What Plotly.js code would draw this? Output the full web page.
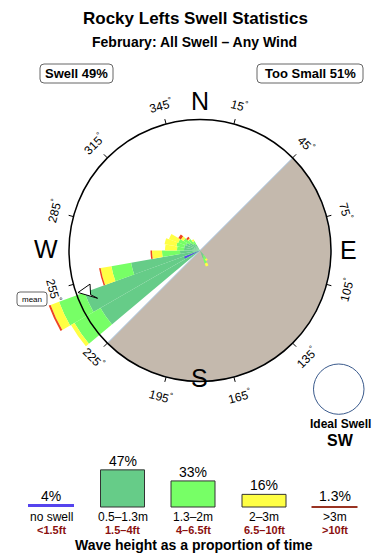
<!DOCTYPE html>
<html><head><meta charset="utf-8">
<script src="https://cdn.plot.ly/plotly-3.0.1.min.js"></script>
<style>html,body{margin:0;padding:0;background:#fff}#chart{width:390px;height:560px}</style>
</head><body><div id="chart"></div>
<script>
// ---------- data ----------
const directions = [145, 155, 235, 245, 255, 265, 275, 285, 295, 305, 315, 325];
const h_05_13 = [0.6, 0.8, 11.5, 12.3, 7.0, 2.0, 1.6, 1.6, 1.5, 1.2, 0.9, 0.7];
const h_13_2  = [0.4, 0.6, 3.0, 2.7, 2.0, 1.8, 0.7, 0.8, 0.8, 0.7, 0.6, 0.4];
const h_2_3   = [0.2, 0.3, 0.4, 0.9, 1.1, 1.0, 1.2, 1.2, 1.0, 0.3, 0.1, 0.2];
const h_3p    = [0, 0, 0, 0.2, 0.15, 0.15, 0, 0, 0, 0.3, 0.2, 0];
const noSwellDir = [245];
const noSwellVal = [1.7];
const meanDir = 246;
const shadowFrom = 45, shadowTo = 225;
const tickAngles = [15, 45, 75, 105, 135, 165, 195, 225, 255, 285, 315, 345];
const cardinals = ['N', 'E', 'S', 'W'];
const legendPct = ['4%', '47%', '33%', '16%', '1.3%'];
const legendPctVal = [4, 47, 33, 16, 1.3];
const legendMetres = ['no swell', '0.5\u20131.3m', '1.3\u20132m', '2\u20133m', '>3m'];
const legendFeet = ['<1.5ft', '1.5\u20134ft', '4\u20136.5ft', '6.5\u201310ft', '>10ft'];
const swellPct = 'Swell 49%';
const tooSmallPct = 'Too Small 51%';
const idealSwell = 'SW';

// ---------- geometry / styles ----------
const W = 390, H = 560;
const CX = 200, CY = 250.5, PXU = 10;
const RING = 13.1, RMAX = 17.5;
const px = x => x / W;
const py = y => 1 - y / H;
const rad = d => d * Math.PI / 180;
const colors = ['#66cc88', '#77ff66', '#ffff44', '#ee4422'];
const FONT = 'Liberation Sans, Arial, Helvetica, sans-serif';

function cum(arrs, k) {
  return directions.map((_, i) => { let s = 0; for (let j = 0; j < k; j++) s += arrs[j][i]; return s; });
}
const layers = [h_05_13, h_13_2, h_2_3, h_3p];

const traces = [];
// land shadow sector
traces.push({
  type: 'barpolar', r: [RING], theta: [(shadowFrom + shadowTo) / 2], width: [shadowTo - shadowFrom], base: [0],
  marker: {color: '#c4b9ad', line: {color: '#a9c6e2', width: 1}}, hoverinfo: 'skip'
});
layers.forEach((arr, k) => {
  traces.push({
    type: 'barpolar', r: arr, theta: directions, width: directions.map(() => 10), base: cum(layers, k),
    marker: {color: colors[k], line: {width: 0}}, hoverinfo: 'skip'
  });
});
traces.push({
  type: 'barpolar', r: noSwellVal, theta: noSwellDir, width: [7], base: [0],
  marker: {color: '#5544ee', line: {width: 0}}, hoverinfo: 'skip'
});
// compass ticks
const tr = [], tt = [];
tickAngles.forEach(a => { tr.push(RING, RING + 0.5, null); tt.push(a, a, null); });
traces.push({type: 'scatterpolar', mode: 'lines', r: tr, theta: tt, line: {color: '#000', width: 1}, hoverinfo: 'skip'});
// mean arrow (arrowhead at mean direction)
traces.push({
  type: 'scatterpolar', mode: 'lines', fill: 'toself', fillcolor: '#fff',
  r: [RING - 0.2, RING - 1.8, RING - 1.3, RING - 1.6, RING - 0.2],
  theta: [meanDir + 5, meanDir - 1, meanDir + 2, meanDir + 7, meanDir + 5],
  line: {color: '#000', width: 1}, hoverinfo: 'skip'
});

const shapes = [];
const annotations = [];
// compass circle
shapes.push({type: 'circle', xref: 'paper', yref: 'paper',
  x0: px(CX - RING * PXU), x1: px(CX + RING * PXU), y0: py(CY + RING * PXU), y1: py(CY - RING * PXU),
  line: {color: '#000', width: 1.5}, layer: 'above'});
// tick labels
tickAngles.forEach(a => {
  const r = 15.1 * PXU;
  let ang = a % 180; if (ang > 90) ang -= 180;
  annotations.push({xref: 'paper', yref: 'paper', x: px(CX + r * Math.sin(rad(a))), y: py(CY - r * Math.cos(rad(a))),
    text: a + '<sup>\u00b0</sup>', showarrow: false, textangle: ang, xanchor: 'center', yanchor: 'middle',
    font: {family: FONT, size: 12, color: '#000'}});
});
// cardinal letters
const cardPos = {N: [200, 101], E: [348, 250], S: [200, 378], W: [46, 249]};
cardinals.forEach(c => annotations.push({xref: 'paper', yref: 'paper', x: px(cardPos[c][0]), y: py(cardPos[c][1]),
  text: c, showarrow: false, xanchor: 'center', yanchor: 'middle', font: {family: FONT, size: 25, color: '#000'}}));

function roundRect(x0, y0, x1, y1, r) {
  const X = px, Y = py;
  return `M${X(x0 + r)},${Y(y0)} L${X(x1 - r)},${Y(y0)} Q${X(x1)},${Y(y0)} ${X(x1)},${Y(y0 + r)} ` +
    `L${X(x1)},${Y(y1 - r)} Q${X(x1)},${Y(y1)} ${X(x1 - r)},${Y(y1)} L${X(x0 + r)},${Y(y1)} ` +
    `Q${X(x0)},${Y(y1)} ${X(x0)},${Y(y1 - r)} L${X(x0)},${Y(y0 + r)} Q${X(x0)},${Y(y0)} ${X(x0 + r)},${Y(y0)} Z`;
}
function text(x, y, t, size, opts) {
  annotations.push(Object.assign({xref: 'paper', yref: 'paper', x: px(x), y: py(y), text: t, showarrow: false,
    xanchor: 'center', yanchor: 'middle', font: {family: FONT, size: size, color: '#000'}}, opts || {}));
}
// titles
text(195, 19, '<b>Rocky Lefts Swell Statistics</b>', 17);
text(194, 42, '<b>February: All Swell \u2013 Any Wind</b>', 14);
// top boxes
shapes.push({type: 'path', xref: 'paper', yref: 'paper', path: roundRect(40, 64, 113, 83, 4), line: {color: '#666', width: 1}, fillcolor: '#fff'});
shapes.push({type: 'path', xref: 'paper', yref: 'paper', path: roundRect(257, 64, 363, 83, 4), line: {color: '#666', width: 1}, fillcolor: '#fff'});
text(76.5, 74, '<b>' + swellPct + '</b>', 13);
text(310, 74, '<b>' + tooSmallPct + '</b>', 13);
// mean label
shapes.push({type: 'path', xref: 'paper', yref: 'paper', path: roundRect(17, 292, 47, 306, 3), line: {color: '#666', width: 1}, fillcolor: '#fff'});
text(32, 299, 'mean', 8);
// ideal swell
shapes.push({type: 'circle', xref: 'paper', yref: 'paper', x0: px(313.5), x1: px(364), y0: py(414.3), y1: py(364),
  line: {color: '#3a5a8c', width: 1}, fillcolor: '#fff'});
text(340, 424, '<b>Ideal Swell</b>', 12);
text(340, 440, '<b>' + idealSwell + '</b>', 16);

// legend
const legX = [51, 122.5, 193, 264, 334.5];
const legW = 44, legBase = 507, pxPerPct = 0.79;
const legFill = ['#5544ee', colors[0], colors[1], colors[2], '#993322'];
legX.forEach((x, i) => {
  let top;
  if (i === 0 || i === 4) {
    const yy = legBase - (i === 0 ? 1.5 : 0);
    shapes.push({type: 'line', xref: 'paper', yref: 'paper', x0: px(x - 23), x1: px(x + 23), y0: py(yy), y1: py(yy),
      line: {color: legFill[i], width: i === 0 ? 3 : 2}});
    top = legBase - 2;
  } else {
    top = legBase - legendPctVal[i] * pxPerPct;
    shapes.push({type: 'rect', xref: 'paper', yref: 'paper', x0: px(x - legW / 2), x1: px(x + legW / 2), y0: py(legBase), y1: py(top),
      line: {color: '#333', width: 1}, fillcolor: legFill[i]});
  }
  text(x, top - 9, legendPct[i], 14);
  text(x, 517, legendMetres[i], 12);
  text(x, 530, '<b>' + legendFeet[i] + '</b>', 11, {font: {family: FONT, size: 11, color: '#8b1010'}});
});
text(194, 545, '<b>Wave height as a proportion of time</b>', 14);

const layout = {
  width: W, height: H, margin: {l: 0, r: 0, t: 0, b: 0},
  paper_bgcolor: '#fff', showlegend: false,
  polar: {
    domain: {x: [px(CX - RMAX * PXU), px(CX + RMAX * PXU)], y: [py(CY + RMAX * PXU), py(CY - RMAX * PXU)]},
    bgcolor: 'rgba(0,0,0,0)', barmode: 'overlay',
    angularaxis: {rotation: 90, direction: 'clockwise', visible: false},
    radialaxis: {visible: false, range: [0, RMAX]}
  },
  shapes: shapes, annotations: annotations
};
Plotly.newPlot('chart', traces, layout, {staticPlot: true, displayModeBar: false});
</script></body></html>
